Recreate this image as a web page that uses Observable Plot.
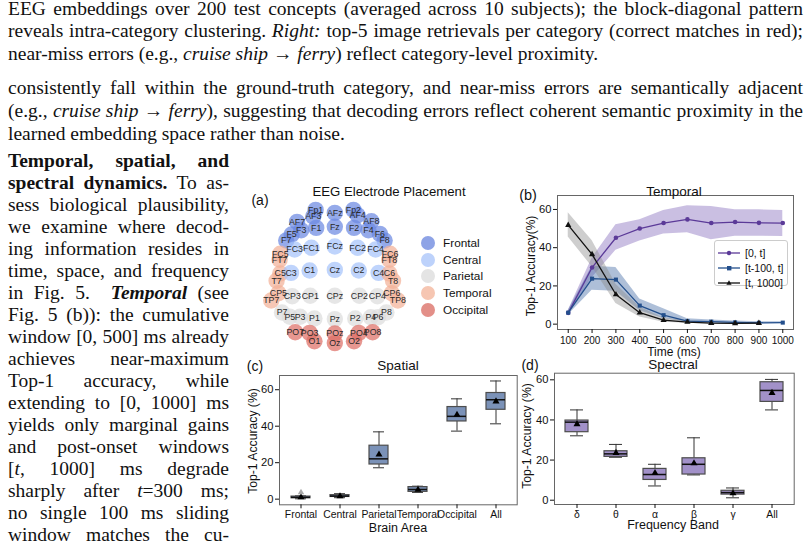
<!DOCTYPE html>
<html><head><meta charset="utf-8">
<script src="https://cdn.jsdelivr.net/npm/d3@7"></script>
<script src="https://cdn.jsdelivr.net/npm/@observablehq/plot@0.6"></script>
<style>
html,body{margin:0;padding:0;background:#fff}
body{width:806px;height:542px;overflow:hidden;position:relative;font-family:"Liberation Serif","Times New Roman",serif;color:#111}
.ln{position:absolute;white-space:nowrap;line-height:1;font-size:19.5px;transform-origin:0 0}
.lbl{position:absolute;white-space:nowrap;line-height:1;font-family:"Liberation Sans",Arial,sans-serif;color:#111;transform:translate(-50%,-50%)}
.lbl.rot{transform:translate(-50%,-50%) rotate(-90deg)}
.pane{position:absolute}
.pane svg{overflow:visible}
.leg{position:absolute;font-family:"Liberation Sans",Arial,sans-serif;color:#111}
</style></head>
<body>
<script>
// ---------------- text ----------------
const topLines = [
  {y:11, j:true, h:'EEG embeddings over 200 test concepts (averaged across 10 subjects); the block-diagonal pattern'},
  {y:33.5, j:true, h:'reveals intra-category clustering. <i>Right:</i> top-5 image retrievals per category (correct matches in red);'},
  {y:56, j:false, h:'near-miss errors (e.g., <i>cruise ship</i> → <i>ferry</i>) reflect category-level proximity.'},
  {y:90, j:true, h:'consistently fall within the ground-truth category, and near-miss errors are semantically adjacent'},
  {y:113, j:true, h:'(e.g., <i>cruise ship</i> → <i>ferry</i>), suggesting that decoding errors reflect coherent semantic proximity in the'},
  {y:136, j:false, h:'learned embedding space rather than noise.'}
];
const leftLines = [
  '<b>Temporal, spatial, and</b>',
  '<b>spectral dynamics.</b> To as-',
  'sess biological plausibility,',
  'we examine where decod-',
  'ing information resides in',
  'time, space, and frequency',
  'in Fig. 5. &nbsp;<b><i>Temporal</i></b> (see',
  'Fig. 5 (b)): the cumulative',
  'window [0, 500] ms already',
  'achieves near-maximum',
  'Top-1 accuracy, while',
  'extending to [0, 1000] ms',
  'yields only marginal gains',
  'and post-onset windows',
  '[<i>t</i>, 1000] ms degrade',
  'sharply after <i>t</i>=300 ms;',
  'no single 100 ms sliding',
  'window matches the cu-'
];
const fs = 19.5;
function addLine(html, x, yc, w, justify){
  const d = document.createElement('div');
  d.className = 'ln';
  d.innerHTML = html;
  d.style.left = x + 'px';
  d.style.top = (yc - 0.62*fs) + 'px';
  d.style.width = 'max-content';
  document.body.appendChild(d);
  const nat = d.getBoundingClientRect().width;
  if (nat > w) { d.style.transform = `scaleX(${w/nat})`; }
  else if (justify) { d.style.width = w + 'px'; d.style.whiteSpace = 'normal'; d.style.textAlign = 'justify'; d.style.textAlignLast = 'justify'; }
}
topLines.forEach(l => addLine(l.h, 8, l.y, 795, l.j));
leftLines.forEach((h,i) => addLine(h, 8, 163.5 + i*22.0, 221, true));

// ---------------- labels ----------------
function lbl(text, cx, cy, size, rot){
  const d = document.createElement('div');
  d.className = rot ? 'lbl rot' : 'lbl';
  d.textContent = text; d.style.left = cx+'px'; d.style.top = cy+'px'; d.style.fontSize = size+'px';
  document.body.appendChild(d);
}
function pane(x, y, node){
  const d = document.createElement('div'); d.className='pane'; d.style.left=x+'px'; d.style.top=y+'px';
  d.appendChild(node); document.body.appendChild(d);
}
const sty = {background:"none", fontFamily:"Liberation Sans, Arial, sans-serif", color:"#111", overflow:"visible"};

// ---------------- (a) electrode placement ----------------
const regions = ["Frontal","Central","Parietal","Temporal","Occipital"];
const regionColors = ["#6c89e2","#a6c3fb","#dcdcdc","#f3b298","#de6f66"];
const legendColors = ["#8ea3e6","#bdd2fb","#e4e4e4","#f6c6b2","#e38f88"];
const elecNames = ["Fp1","Fp2","AF7","AF3","AFz","AF4","AF8","F7","F5","F3","F1","Fz","F2","F4","F6","F8",
  "FT7","FC5","FC3","FC1","FCz","FC2","FC4","FC6","FT8",
  "T7","C5","C3","C1","Cz","C2","C4","C6","T8",
  "TP7","CP5","CP3","CP1","CPz","CP2","CP4","CP6","TP8",
  "P7","P5","P3","P1","Pz","P2","P4","P6","P8",
  "PO7","PO3","POz","PO4","PO8","O1","Oz","O2"];
const elecX = [-0.32,0.31,-0.63,-0.36,0,0.38,0.61,-0.81,-0.72,-0.56,-0.31,0,0.32,0.56,0.75,0.83,
  -0.92,-0.91,-0.67,-0.39,0,0.38,0.68,0.92,0.91,
  -0.97,-0.91,-0.73,-0.42,0,0.40,0.73,0.91,0.97,
  -1.06,-0.94,-0.71,-0.41,0,0.41,0.71,0.95,1.05,
  -0.88,-0.75,-0.58,-0.34,0,0.34,0.60,0.72,0.86,
  -0.66,-0.42,0,0.40,0.63,-0.34,0,0.32];
const elecY = [1.11,1.11,0.91,1.00,1.06,1.02,0.92,0.60,0.70,0.77,0.81,0.83,0.81,0.77,0.71,0.60,
  0.28,0.38,0.45,0.48,0.50,0.48,0.45,0.38,0.28,
  -0.07,0.05,0.06,0.10,0.11,0.10,0.06,0.05,-0.07,
  -0.40,-0.28,-0.33,-0.32,-0.32,-0.32,-0.33,-0.28,-0.40,
  -0.60,-0.67,-0.67,-0.70,-0.71,-0.70,-0.68,-0.68,-0.60,
  -0.93,-0.94,-0.95,-0.94,-0.93,-1.08,-1.11,-1.08];
const elecRegion = ["Frontal","Frontal","Frontal","Frontal","Frontal","Frontal","Frontal","Frontal","Frontal","Frontal","Frontal","Frontal","Frontal","Frontal","Frontal","Frontal",
  "Temporal","Temporal","Central","Central","Central","Central","Central","Temporal","Temporal",
  "Temporal","Temporal","Central","Central","Central","Central","Central","Temporal","Temporal",
  "Temporal","Temporal","Parietal","Parietal","Parietal","Parietal","Parietal","Temporal","Temporal",
  "Parietal","Parietal","Parietal","Parietal","Parietal","Parietal","Parietal","Parietal","Parietal",
  "Occipital","Occipital","Occipital","Occipital","Occipital","Occipital","Occipital","Occipital"];
const elecs = elecNames.map((n,i)=>({name:n, x:elecX[i], y:elecY[i], region:elecRegion[i]}));

pane(240, 150, Plot.plot({
  width:270, height:205, margin:0,
  x:{domain:[-1.572, 2.928], axis:null},
  y:{domain:[-1.317, 2.1], axis:null},
  color:{domain:regions, range:regionColors},
  style:sty,
  marks:[
    Plot.dot(elecs, {x:"x", y:"y", r:8.2, fill:"region", fillOpacity:0.72}),
    Plot.text(elecs, {x:"x", y:"y", text:"name", fontSize:8.8, fill:"#2a2a2a"})
  ]
}));
lbl("(a)", 260, 200, 14);
lbl("EEG Electrode Placement", 389, 192, 13.2);
// legend (a)
regions.forEach((r,i)=>{
  const d = document.createElement('div'); d.className='leg';
  d.style.left='421px'; d.style.top=(240+i*16.8-7)+'px';
  d.innerHTML = `<span style="display:inline-block;width:14px;height:14px;border-radius:50%;background:${legendColors[i]};vertical-align:middle"></span><span style="font-size:11.8px;margin-left:8px;vertical-align:middle">${r}</span>`;
  document.body.appendChild(d);
});

// ---------------- (b) temporal ----------------
const times = [100,200,300,400,500,600,700,800,900,1000];
const seriesNames = ["[0, t]","[t-100, t]","[t, 1000]"];
const cumMean = [5.9,29.6,45.2,50.0,52.9,54.8,52.9,53.4,53.0,52.9];
const cumLo   = [4.6,24.3,38.6,43.5,47.1,47.8,44.2,46.0,46.0,45.9];
const cumHi   = [7.2,34.5,52.0,54.6,59.5,62.0,61.6,59.8,59.8,59.5];
const slideMean = [6.0,23.8,23.3,9.7,4.7,1.6,1.3,0.9,0.7,0.8];
const slideLo   = [4.8,17.7,17.2,7.0,3.0,1.0,0.6,0.3,0.2,0.3];
const slideHi   = [7.2,30.3,29.6,13.2,8.0,2.8,2.2,1.6,1.3,1.3];
const postMean = [51.8,36.5,15.5,6.0,2.1,1.1,0.5,0.4,0.5];
const postLo   = [45.6,30.0,10.8,3.8,1.0,0.5,0.1,0.1,0.1];
const postHi   = [58.3,43.8,20.9,9.0,3.2,1.8,1.0,0.8,0.9];
const lineColors = ["#5b3a98","#234f8c","#111111"];
const bandColors = ["#8a72bf","#4c72a8","#8a8a8a"];
const bandOpac = [0.45,0.45,0.42];
const symbols = ["circle","square","triangle"];
const sMean=[cumMean,slideMean,postMean], sLo=[cumLo,slideLo,postLo], sHi=[cumHi,slideHi,postHi];
const rowsB = k => sMean[k].map((m,i)=>({t:times[i], m, lo:sLo[k][i], hi:sHi[k][i]}));

pane(510, 150, Plot.plot({
  width:296, height:205, marginLeft:47, marginRight:13, marginTop:45, marginBottom:26,
  x:{domain:[55,1045]},
  y:{domain:[-2.8,67.3]},
  style:sty,
  marks:[
    ...[0,1,2].map(k=>Plot.areaY(rowsB(k), {x:"t", y1:"lo", y2:"hi", fill:bandColors[k], fillOpacity:bandOpac[k]})),
    ...[0,1,2].flatMap(k=>[
      Plot.line(rowsB(k), {x:"t", y:"m", stroke:lineColors[k], strokeWidth:1.3}),
      Plot.dot(rowsB(k), {x:"t", y:"m", symbol:symbols[k], r:2.3, fill:lineColors[k], stroke:"none"})
    ]),
    Plot.frame({stroke:"#666"}),
    Plot.axisX({ticks:times, tickFormat:d=>String(d), tickSize:4, tickPadding:3, fontSize:10, label:null}),
    Plot.axisY({ticks:[0,20,40,60], tickSize:4, tickPadding:2, fontSize:11.2, label:null})
  ]
}));
lbl("(b)", 528, 195, 14.5);
lbl("Temporal", 674, 192, 13.5);
lbl("Top-1 Accuracy(%)", 531, 266, 12, true);
lbl("Time (ms)", 674, 352, 12);
// legend (b)
{
  const box = document.createElement('div'); box.className='leg';
  Object.assign(box.style,{left:'714px',top:'240px',width:'74px',height:'46px',border:'1px solid #ccc',borderRadius:'3px',background:'rgba(255,255,255,0.85)',boxSizing:'border-box'});
  document.body.appendChild(box);
  seriesNames.forEach((n,k)=>{
    const d=document.createElement('div'); d.className='leg';
    d.style.left='718px'; d.style.top=(249.3+k*15-6)+'px';
    const c=lineColors[k];
    const mk = k===0?`<circle cx="11" cy="6" r="2.2" fill="${c}"/>`:k===1?`<rect x="9" y="4" width="4.4" height="4.4" fill="${c}"/>`:`<path d="M11,3.2L13.6,7.8L8.4,7.8Z" fill="${c}"/>`;
    d.innerHTML=`<svg width="22" height="12" style="vertical-align:middle"><line x1="0" y1="6" x2="22" y2="6" stroke="${c}" stroke-width="1.3"/>${mk}</svg><span style="font-size:10.5px;margin-left:5px;vertical-align:middle">${n}</span>`;
    document.body.appendChild(d);
  });
}

// ---------------- box helpers ----------------
function boxPlot(cats, mn, q1, md, q3, mx, mean, fill, boxInset, capInset, extra){
  const rows = cats.map((c,i)=>({c, mn:mn[i], q1:q1[i], md:md[i], q3:q3[i], mx:mx[i], mean:mean[i]}));
  return [
    Plot.ruleX(rows, {x:"c", y1:"q3", y2:"mx", stroke:"#333", strokeWidth:1}),
    Plot.ruleX(rows, {x:"c", y1:"mn", y2:"q1", stroke:"#333", strokeWidth:1}),
    Plot.tickY(rows, {x:"c", y:"mx", stroke:"#333", insetLeft:capInset, insetRight:capInset}),
    Plot.tickY(rows, {x:"c", y:"mn", stroke:"#333", insetLeft:capInset, insetRight:capInset}),
    Plot.barY(rows, {x:"c", y1:"q1", y2:"q3", fill, stroke:"#4d4d4d", strokeWidth:1.2, insetLeft:boxInset, insetRight:boxInset}),
    Plot.tickY(rows, {x:"c", y:"md", stroke:"#111", strokeWidth:1.5, insetLeft:boxInset, insetRight:boxInset}),
    Plot.dot(rows, {x:"c", y:"mean", symbol:"triangle", r:2.6, fill:"#000", stroke:"none"}),
    ...(extra||[])
  ];
}

// ---------------- (c) spatial ----------------
const areas = ["Frontal","Central","Parietal","Temporal","Occipital","All"];
const cMin  = [0.2, 0.8, 17.2, 3.7, 37.3, 41.3];
const cQ1   = [0.5, 1.2, 19.0, 4.0, 42.6, 49.0];
const cMed  = [1.0, 1.7, 22.1, 5.3, 45.4, 54.5];
const cQ3   = [1.4, 2.2, 29.3, 6.6, 50.5, 58.2];
const cMax  = [1.8, 3.0, 36.9, 7.1, 55.0, 64.8];
const cMean = [1.0, 1.6, 24.5, 5.1, 46.3, 53.6];
const cOutlierArea = ["Frontal"];
const cOutlierVal = [3.7];
const cOut = cOutlierArea.map((a,i)=>({c:a, v:cOutlierVal[i]}));

pane(240, 355, Plot.plot({
  width:280, height:187, marginLeft:39, marginRight:3.3, marginTop:20, marginBottom:37.7,
  x:{type:"band", domain:areas, padding:0},
  y:{domain:[-3.1,67.8]},
  style:sty,
  marks:[
    ...boxPlot(areas, cMin, cQ1, cMed, cQ3, cMax, cMean, "#7b92b8", 10, 14,
      [Plot.dot(cOut, {x:"c", y:"v", symbol:"triangle", r:2.4, fill:"#aaa", stroke:"none"})]),
    Plot.frame({stroke:"#666"}),
    Plot.axisX({tickSize:4, tickPadding:2, fontSize:10.4, label:null}),
    Plot.axisY({ticks:[0,20,40,60], tickSize:4, tickPadding:2, fontSize:11.2, label:null})
  ]
}));
lbl("(c)", 255, 366, 14);
lbl("Spatial", 398, 366, 13.5);
lbl("Top-1 Accuracy (%)", 253, 441, 12.2, true);
lbl("Brain Area", 398, 528, 12.5);

// ---------------- (d) spectral ----------------
const bands = ["δ","θ","α","β","γ","All"];
const dMin  = [32.1, 21.4, 7.1, 12.6, 1.2, 45.0];
const dQ1   = [33.9, 21.6, 10.1, 12.8, 2.8, 49.0];
const dMed  = [38.9, 23.1, 12.8, 17.9, 3.8, 54.7];
const dQ3   = [39.7, 24.4, 15.6, 20.9, 4.7, 58.8];
const dMax  = [45.0, 27.8, 17.9, 31.1, 6.1, 60.2];
const dMean = [37.9, 23.6, 13.6, 18.4, 3.5, 53.5];

pane(520, 355, Plot.plot({
  width:286, height:187, marginLeft:34, marginRight:12.3, marginTop:17.7, marginBottom:38,
  x:{type:"band", domain:bands, padding:0},
  y:{domain:[-2.14,63.3]},
  style:sty,
  marks:[
    ...boxPlot(bands, dMin, dQ1, dMed, dQ3, dMax, dMean, "#a291c9", 8, 13),
    Plot.frame({stroke:"#666"}),
    Plot.axisX({tickSize:4, tickPadding:2, fontSize:10.4, label:null}),
    Plot.axisY({ticks:[0,20,40,60], tickSize:4, tickPadding:2, fontSize:11.2, label:null})
  ]
}));
lbl("(d)", 530, 365, 14);
lbl("Spectral", 673, 365, 13.5);
lbl("Top-1 Accuracy (%)", 527, 436, 12.2, true);
lbl("Frequency Band", 673, 525, 12.5);
</script>
</body></html>
